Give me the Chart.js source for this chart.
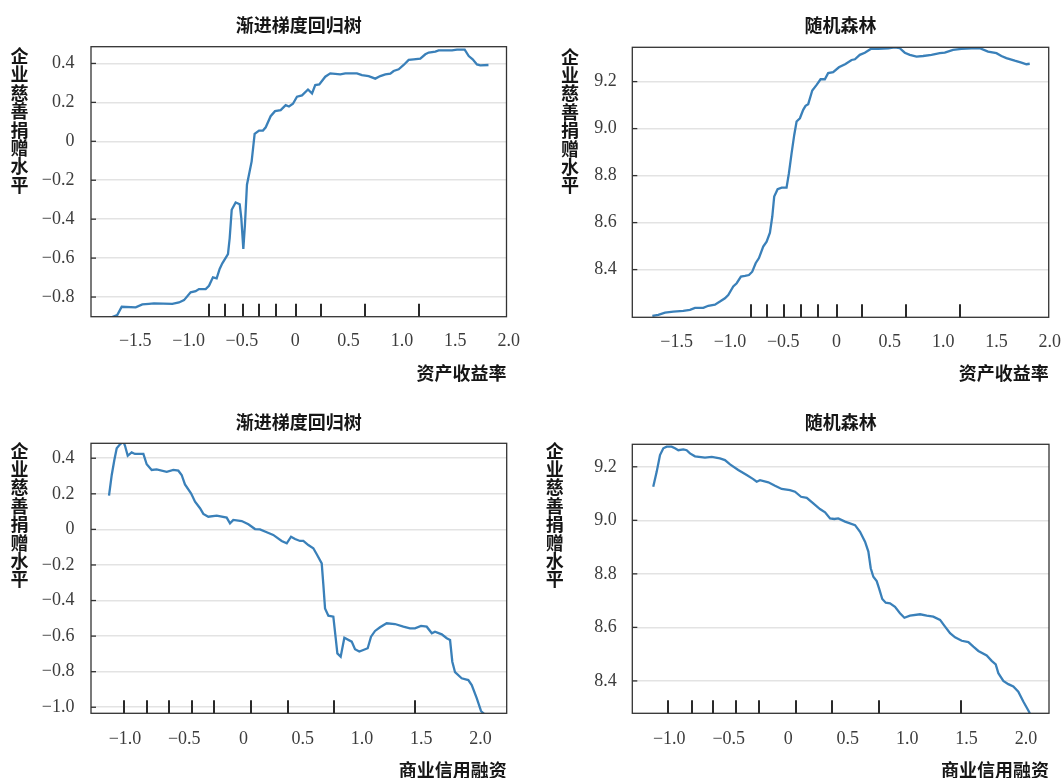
<!DOCTYPE html>
<html lang="zh-CN">
<head>
<meta charset="utf-8">
<title>部分依赖图：资产收益率与商业信用融资</title>
<script src="https://cdn.jsdelivr.net/npm/chart.js@4.4.1/dist/chart.umd.min.js"></script>
<style>
  html, body { margin: 0; padding: 0; background: #ffffff; }
  body { width: 1061px; height: 778px; overflow: hidden; position: relative; }
  canvas.panel { position: absolute; }
</style>
</head>
<body>
<canvas id="pd-gbrt-roa" class="panel" width="530" height="389" style="left:0px;top:0px;width:530px;height:389px"></canvas>
<canvas id="pd-rf-roa" class="panel" width="531" height="389" style="left:530px;top:0px;width:531px;height:389px"></canvas>
<canvas id="pd-gbrt-credit" class="panel" width="530" height="400" style="left:0px;top:389px;width:530px;height:400px"></canvas>
<canvas id="pd-rf-credit" class="panel" width="531" height="400" style="left:530px;top:389px;width:531px;height:400px"></canvas>

<script>
// ============================================================================
// TEXTS
// ============================================================================
const Y_LABEL = '企业慈善捐赠水平';
const MODEL_TITLES = ['渐进梯度回归树', '随机森林'];
const FEATURE_NAMES = ['资产收益率', '商业信用融资'];

// ============================================================================
// TICKS
// ============================================================================
const ROA_X_TICKS = [-1.5, -1.0, -0.5, 0, 0.5, 1.0, 1.5, 2.0];
const CREDIT_X_TICKS = [-1.0, -0.5, 0, 0.5, 1.0, 1.5, 2.0];
const GBRT_ROA_Y_TICKS = [-0.8, -0.6, -0.4, -0.2, 0, 0.2, 0.4];
const GBRT_CREDIT_Y_TICKS = [-1.0, -0.8, -0.6, -0.4, -0.2, 0, 0.2, 0.4];
const RF_Y_TICKS = [8.4, 8.6, 8.8, 9.0, 9.2];

// Deciles of each feature (rug marks at the bottom of the plots)
const ROA_DECILES = [-0.806, -0.656, -0.491, -0.337, -0.178, 0.003, 0.240, 0.650, 1.158];
const CREDIT_DECILES = [-1.008, -0.813, -0.632, -0.435, -0.246, 0.062, 0.372, 0.766, 1.449];

// ============================================================================
// PARTIAL DEPENDENCE CURVES
// ============================================================================
const GBRT_ROA_X = [
  -1.760, -1.669, -1.627, -1.496, -1.434, -1.372, -1.325, -1.153, -1.090, -1.043,
  -0.981, -0.934, -0.903, -0.840, -0.809, -0.772, -0.737, -0.709, -0.684, -0.631,
  -0.615, -0.596, -0.559, -0.521, -0.506, -0.487, -0.472, -0.453, -0.409, -0.381,
  -0.340, -0.303, -0.277, -0.231, -0.190, -0.137, -0.090, -0.059, -0.022, 0.016,
  0.063, 0.119, 0.157, 0.187, 0.225, 0.281, 0.328, 0.422, 0.469, 0.578,
  0.625, 0.688, 0.750, 0.797, 0.844, 0.891, 0.922, 0.969, 1.016, 1.063,
  1.110, 1.172, 1.219, 1.251, 1.313, 1.344, 1.469, 1.516, 1.588, 1.626,
  1.663, 1.703, 1.734, 1.811
];
const GBRT_ROA_Y = [
  -0.912, -0.893, -0.850, -0.853, -0.838, -0.835, -0.833, -0.835, -0.828, -0.816,
  -0.776, -0.770, -0.759, -0.759, -0.742, -0.699, -0.704, -0.656, -0.627, -0.580,
  -0.498, -0.352, -0.314, -0.323, -0.395, -0.553, -0.429, -0.223, -0.103, 0.038,
  0.055, 0.055, 0.072, 0.129, 0.155, 0.160, 0.186, 0.179, 0.193, 0.229,
  0.236, 0.266, 0.246, 0.289, 0.292, 0.332, 0.349, 0.344, 0.349, 0.349,
  0.340, 0.335, 0.322, 0.335, 0.344, 0.347, 0.361, 0.370, 0.392, 0.418,
  0.421, 0.425, 0.447, 0.456, 0.461, 0.467, 0.467, 0.471, 0.471, 0.438,
  0.421, 0.395, 0.390, 0.392
];

const RF_ROA_X = [
  -1.728, -1.672, -1.609, -1.531, -1.438, -1.375, -1.328, -1.250, -1.203, -1.141,
  -1.094, -1.047, -1.016, -0.969, -0.937, -0.897, -0.859, -0.822, -0.791, -0.759,
  -0.728, -0.688, -0.656, -0.625, -0.603, -0.585, -0.553, -0.515, -0.469, -0.447,
  -0.422, -0.397, -0.375, -0.344, -0.313, -0.291, -0.266, -0.228, -0.187, -0.150,
  -0.110, -0.079, -0.032, 0.022, 0.084, 0.141, 0.172, 0.218, 0.265, 0.321,
  0.390, 0.484, 0.546, 0.593, 0.640, 0.687, 0.750, 0.812, 0.890, 0.968,
  1.015, 1.093, 1.171, 1.265, 1.343, 1.421, 1.500, 1.546, 1.593, 1.671,
  1.734, 1.781, 1.812
];
const RF_ROA_Y = [
  8.203, 8.207, 8.217, 8.221, 8.224, 8.229, 8.237, 8.237, 8.246, 8.251,
  8.264, 8.278, 8.292, 8.328, 8.342, 8.370, 8.373, 8.377, 8.391, 8.427,
  8.449, 8.498, 8.519, 8.557, 8.626, 8.711, 8.742, 8.749, 8.749, 8.810,
  8.895, 8.973, 9.030, 9.044, 9.080, 9.097, 9.104, 9.162, 9.186, 9.210,
  9.210, 9.236, 9.240, 9.261, 9.275, 9.292, 9.295, 9.314, 9.323, 9.339,
  9.339, 9.342, 9.346, 9.342, 9.323, 9.314, 9.306, 9.309, 9.314, 9.321,
  9.323, 9.335, 9.339, 9.342, 9.342, 9.328, 9.321, 9.309, 9.300, 9.289,
  9.281, 9.274, 9.276
];

const GBRT_CREDIT_X = [
  -1.135, -1.112, -1.090, -1.070, -1.042, -1.014, -1.000, -0.977, -0.944, -0.916,
  -0.845, -0.817, -0.775, -0.733, -0.648, -0.592, -0.550, -0.522, -0.494, -0.443,
  -0.409, -0.367, -0.339, -0.297, -0.226, -0.142, -0.114, -0.086, -0.015, 0.041,
  0.097, 0.139, 0.196, 0.251, 0.322, 0.365, 0.401, 0.435, 0.477, 0.505,
  0.547, 0.589, 0.618, 0.660, 0.674, 0.688, 0.716, 0.758, 0.778, 0.792,
  0.820, 0.851, 0.913, 0.941, 0.977, 1.011, 1.048, 1.076, 1.110, 1.152,
  1.208, 1.278, 1.349, 1.405, 1.447, 1.498, 1.546, 1.589, 1.616, 1.673,
  1.715, 1.743, 1.762, 1.785, 1.841, 1.897, 1.926, 1.968, 2.004, 2.050
];
const GBRT_CREDIT_Y = [
  0.190, 0.306, 0.390, 0.456, 0.478, 0.495, 0.470, 0.414, 0.433, 0.424,
  0.424, 0.366, 0.334, 0.337, 0.324, 0.334, 0.330, 0.306, 0.253, 0.203,
  0.156, 0.119, 0.087, 0.071, 0.077, 0.066, 0.034, 0.053, 0.047, 0.029,
  0.002, 0.000, -0.016, -0.031, -0.065, -0.078, -0.041, -0.054, -0.065, -0.065,
  -0.088, -0.106, -0.140, -0.191, -0.313, -0.444, -0.485, -0.491, -0.612, -0.697,
  -0.716, -0.609, -0.631, -0.674, -0.687, -0.678, -0.668, -0.603, -0.571, -0.550,
  -0.528, -0.532, -0.547, -0.556, -0.556, -0.543, -0.547, -0.584, -0.575, -0.590,
  -0.612, -0.622, -0.744, -0.803, -0.837, -0.847, -0.875, -0.949, -1.021, -1.050
];

const RF_CREDIT_X = [
  -1.135, -1.106, -1.078, -1.050, -1.022, -0.980, -0.952, -0.924, -0.882, -0.854,
  -0.826, -0.784, -0.700, -0.643, -0.574, -0.532, -0.489, -0.420, -0.349, -0.294,
  -0.265, -0.237, -0.167, -0.111, -0.055, 0.015, 0.057, 0.108, 0.156, 0.211,
  0.267, 0.310, 0.352, 0.388, 0.421, 0.478, 0.562, 0.604, 0.646, 0.674,
  0.694, 0.716, 0.744, 0.764, 0.791, 0.820, 0.856, 0.898, 0.940, 0.977,
  1.024, 1.109, 1.165, 1.220, 1.277, 1.319, 1.361, 1.403, 1.459, 1.515,
  1.557, 1.599, 1.669, 1.711, 1.745, 1.767, 1.809, 1.851, 1.893, 1.935,
  1.977, 2.025, 2.045
];
const RF_CREDIT_Y = [
  9.125, 9.181, 9.244, 9.269, 9.275, 9.275, 9.269, 9.262, 9.265, 9.262,
  9.250, 9.239, 9.234, 9.237, 9.231, 9.225, 9.209, 9.188, 9.169, 9.154,
  9.144, 9.150, 9.142, 9.129, 9.117, 9.113, 9.107, 9.088, 9.084, 9.063,
  9.042, 9.030, 9.007, 9.005, 9.007, 8.995, 8.982, 8.957, 8.920, 8.883,
  8.821, 8.789, 8.773, 8.746, 8.706, 8.692, 8.690, 8.677, 8.653, 8.636,
  8.644, 8.649, 8.644, 8.640, 8.628, 8.603, 8.578, 8.563, 8.550, 8.545,
  8.528, 8.512, 8.495, 8.475, 8.462, 8.429, 8.400, 8.388, 8.379, 8.360,
  8.323, 8.285, 8.265
];

// ============================================================================
// STYLE
// ============================================================================
const CJK_FAMILY = '"Noto Sans CJK SC", "Noto Sans", sans-serif';
const SERIF_FAMILY = '"Liberation Serif", "DejaVu Serif", serif';
const TEXT_COLOR = '#161616';
const TICK_COLOR = '#3c3c3c';
const LINE_COLOR = '#3a80b9';
const GRID_COLOR = '#e3e3e3';
const FRAME_COLOR = '#333333';
const RUG_COLOR = '#2a2a2a';

const TITLE_FONT = { family: CJK_FAMILY, size: 18, weight: 'bold', lineHeight: 1.2 };
const LABEL_FONT = { family: CJK_FAMILY, size: 18, weight: 'bold', lineHeight: 1.2 };
const TICK_FONT = { family: SERIF_FAMILY, size: 18, lineHeight: 1.2 };

// Panel geometry (pixels inside each canvas)
const PANELS = [
  {
    id: 'pd-gbrt-roa', title: MODEL_TITLES[0], feature: FEATURE_NAMES[0],
    xs: GBRT_ROA_X, ys: GBRT_ROA_Y, xTicks: ROA_X_TICKS, yTicks: GBRT_ROA_Y_TICKS, rug: ROA_DECILES,
    xRange: [-1.915, 1.98], yRange: [-0.901, 0.486],
    box: { titleTop: 14.2, titleBottom: 10.9, yWidth: 91, right: 23.5, xHeight: 67.4, bottom: 4.9,
           xTickGap: 14.2, yTickPad: 16.5, labelX: -71.5, labelTop: 9.5 }
  },
  {
    id: 'pd-rf-roa', title: MODEL_TITLES[1], feature: FEATURE_NAMES[0],
    xs: RF_ROA_X, ys: RF_ROA_Y, xTicks: ROA_X_TICKS, yTicks: RF_Y_TICKS, rug: ROA_DECILES,
    xRange: [-1.916, 1.99], yRange: [8.197, 9.346],
    box: { titleTop: 14.2, titleBottom: 11.5, yWidth: 102.3, right: 12, xHeight: 66.8, bottom: 4.9,
           xTickGap: 14.2, yTickPad: 15.5, labelX: -62.3, labelTop: 9.5 }
  },
  {
    id: 'pd-gbrt-credit', title: MODEL_TITLES[0], feature: FEATURE_NAMES[1],
    xs: GBRT_CREDIT_X, ys: GBRT_CREDIT_Y, xTicks: CREDIT_X_TICKS, yTicks: GBRT_CREDIT_Y_TICKS, rug: CREDIT_DECILES,
    xRange: [-1.287, 2.221], yRange: [-1.034, 0.484],
    box: { titleTop: 21.9, titleBottom: 10.8, yWidth: 91, right: 23.3, xHeight: 67.5, bottom: 8.2,
           xTickGap: 14.9, yTickPad: 16.5, labelX: -71.5, labelTop: 7.5 }
  },
  {
    id: 'pd-rf-credit', title: MODEL_TITLES[1], feature: FEATURE_NAMES[1],
    xs: RF_CREDIT_X, ys: RF_CREDIT_Y, xTicks: CREDIT_X_TICKS, yTicks: RF_Y_TICKS, rug: CREDIT_DECILES,
    xRange: [-1.311, 2.193], yRange: [8.279, 9.284],
    box: { titleTop: 21.9, titleBottom: 11.8, yWidth: 102.3, right: 12, xHeight: 67.5, bottom: 8.2,
           xTickGap: 14.9, yTickPad: 15.5, labelX: -77.6, labelTop: 6.5 }
  }
];

// ============================================================================
// HELPERS
// ============================================================================

/** Tick text in the matplotlib style: "0", "0.4", "−0.2". */
function fmtTick(v) {
  if (v === 0) return '0';
  return (v < 0 ? '\u2212' : '') + Math.abs(v).toFixed(1);
}

/**
 * Draws the plot frame, the short inward y ticks, the decile rug and the
 * vertical (stacked characters) y-axis label.
 */
function makeDecorPlugin(panel) {
  return {
    id: 'pdpDecor',
    afterDatasetsDraw(chart) {
      const { ctx, chartArea: a, scales: { x, y } } = chart;
      ctx.save();
      ctx.strokeStyle = FRAME_COLOR;
      ctx.lineWidth = 1.3;
      for (const t of y.ticks) {
        const py = y.getPixelForValue(t.value);
        ctx.beginPath();
        ctx.moveTo(a.left, py);
        ctx.lineTo(a.left + 5, py);
        ctx.stroke();
      }
      ctx.strokeStyle = RUG_COLOR;
      ctx.lineWidth = 2;
      for (const v of panel.rug) {
        const px = Math.round(x.getPixelForValue(v));
        ctx.beginPath();
        ctx.moveTo(px, a.bottom);
        ctx.lineTo(px, a.bottom - 13);
        ctx.stroke();
      }
      ctx.strokeStyle = FRAME_COLOR;
      ctx.lineWidth = 1.3;
      ctx.strokeRect(a.left, a.top, a.width, a.height);
      ctx.restore();
    },
    afterDraw(chart) {
      const { ctx, chartArea: a } = chart;
      ctx.save();
      ctx.font = 'bold 18px ' + CJK_FAMILY;
      ctx.fillStyle = TEXT_COLOR;
      ctx.textAlign = 'center';
      ctx.textBaseline = 'middle';
      [...Y_LABEL].forEach((ch, i) => {
        ctx.fillText(ch, a.left + panel.box.labelX, a.top + panel.box.labelTop + i * 18.4);
      });
      ctx.restore();
    }
  };
}

/** Builds one partial dependence panel. */
function renderPanel(panel) {
  const b = panel.box;
  const ctx = document.getElementById(panel.id).getContext('2d');

  return new Chart(ctx, {
    type: 'line',
    data: {
      datasets: [{
        data: panel.xs.map((x, i) => ({ x: x, y: panel.ys[i] })),
        borderColor: LINE_COLOR,
        borderWidth: 2.3,
        pointRadius: 0,
        tension: 0,
        fill: false,
        clip: 0
      }]
    },
    options: {
      responsive: false,
      animation: false,
      events: [],
      layout: { padding: { left: 0, top: 0, right: b.right, bottom: b.bottom } },
      plugins: {
        legend: { display: false },
        tooltip: { enabled: false },
        title: {
          display: true,
          text: panel.title,
          fullSize: false,
          color: TEXT_COLOR,
          font: TITLE_FONT,
          padding: { top: b.titleTop, bottom: b.titleBottom }
        }
      },
      scales: {
        x: {
          type: 'linear',
          min: panel.xRange[0],
          max: panel.xRange[1],
          afterBuildTicks: (axis) => { axis.ticks = panel.xTicks.map(v => ({ value: v })); },
          afterFit: (axis) => { axis.height = b.xHeight; },
          grid: { display: false, drawTicks: true, tickLength: b.xTickGap },
          border: { display: false },
          ticks: {
            padding: 0,
            autoSkip: false,
            maxRotation: 0,
            color: TICK_COLOR,
            font: TICK_FONT,
            callback: (v) => fmtTick(v)
          },
          title: {
            display: true,
            text: panel.feature,
            align: 'end',
            color: TEXT_COLOR,
            font: LABEL_FONT,
            padding: 0
          }
        },
        y: {
          type: 'linear',
          min: panel.yRange[0],
          max: panel.yRange[1],
          afterBuildTicks: (axis) => { axis.ticks = panel.yTicks.map(v => ({ value: v })); },
          afterFit: (axis) => { axis.width = b.yWidth; },
          grid: { color: GRID_COLOR, lineWidth: 1.6, drawTicks: false },
          border: { display: false },
          ticks: {
            padding: b.yTickPad,
            color: TICK_COLOR,
            font: TICK_FONT,
            callback: (v) => fmtTick(v)
          }
        }
      }
    },
    plugins: [makeDecorPlugin(panel)]
  });
}

PANELS.forEach(renderPanel);
</script>
</body>
</html>
